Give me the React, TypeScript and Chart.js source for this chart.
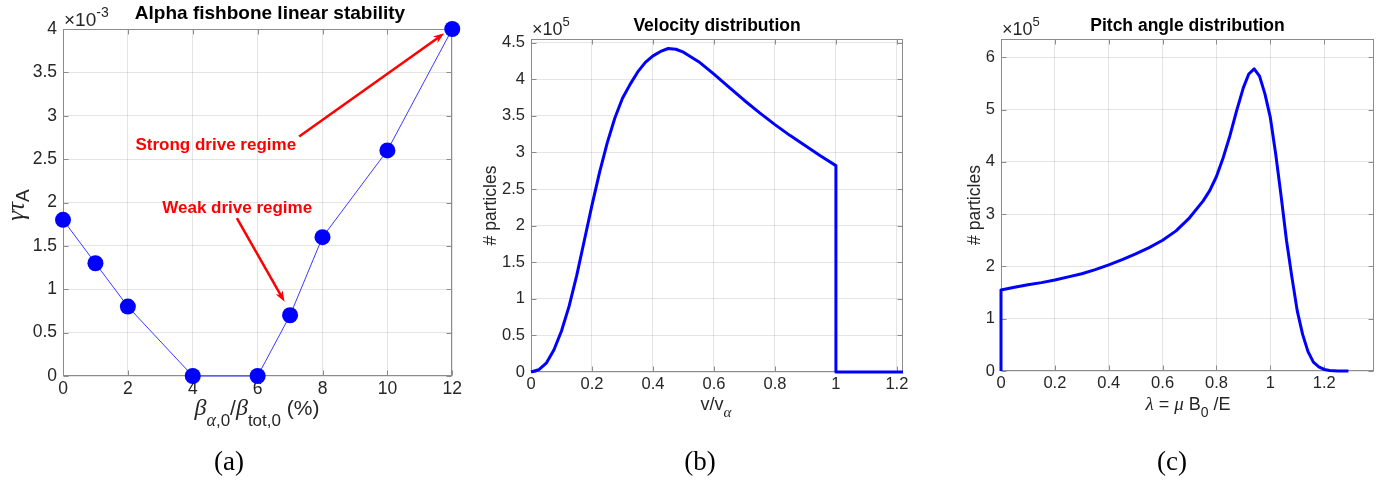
import React, { useEffect, useRef } from 'react';
import { Chart, registerables } from 'chart.js';

Chart.register(...registerables);

const SANS = '"Liberation Sans", Arial, Helvetica, sans-serif';
const SERIF = '"Liberation Serif", "Times New Roman", serif';
const TEXT = '#262626';
const AXIS = '#8c8c8c';
const GRID = 'rgba(0,0,0,0.1)';
const BLUE = '#0000ff';
const RED = '#ff0000';
const H = 481;

// ---------- (a) Alpha fishbone linear stability ----------
const BETA_RATIO_PCT = [0, 1, 2, 4, 6, 7, 8, 10, 12];
const GROWTH_RATE_E3 = [1.8, 1.3, 0.8, 0, 0, 0.7, 1.6, 2.6, 4.0];
const A_X_TICKS = [0, 2, 4, 6, 8, 10, 12];
const A_X_TICK_LABELS = ['0', '2', '4', '6', '8', '10', '12'];
const A_Y_TICKS = [0, 0.5, 1, 1.5, 2, 2.5, 3, 3.5, 4];
const A_Y_TICK_LABELS = ['0', '0.5', '1', '1.5', '2', '2.5', '3', '3.5', '4'];
const A_TITLE = 'Alpha fishbone linear stability';
const STRONG_LABEL = 'Strong drive regime';
const WEAK_LABEL = 'Weak drive regime';

// ---------- (b) Velocity distribution ----------
const VEL_X = [0, 0.025, 0.05, 0.075, 0.1, 0.125, 0.15, 0.175, 0.2, 0.225, 0.25, 0.275, 0.3, 0.325, 0.35, 0.375, 0.4, 0.425, 0.45, 0.475, 0.5, 0.55, 0.6, 0.65, 0.7, 0.75, 0.8, 0.85, 0.9, 0.95, 1.0, 1.0, 1.22];
const VEL_COUNT_E5 = [0, 0.03, 0.12, 0.3, 0.56, 0.9, 1.32, 1.8, 2.28, 2.73, 3.13, 3.47, 3.74, 3.93, 4.1, 4.23, 4.32, 4.38, 4.42, 4.41, 4.37, 4.24, 4.07, 3.89, 3.71, 3.54, 3.38, 3.23, 3.09, 2.95, 2.82, 0, 0];
const B_X_TICKS = [0, 0.2, 0.4, 0.6, 0.8, 1, 1.2];
const B_X_TICK_LABELS = ['0', '0.2', '0.4', '0.6', '0.8', '1', '1.2'];
const B_Y_TICKS = [0, 0.5, 1, 1.5, 2, 2.5, 3, 3.5, 4, 4.5];
const B_Y_TICK_LABELS = ['0', '0.5', '1', '1.5', '2', '2.5', '3', '3.5', '4', '4.5'];
const B_TITLE = 'Velocity distribution';

// ---------- (c) Pitch angle distribution ----------
const PITCH_X = [0, 0, 0.05, 0.1, 0.15, 0.2, 0.25, 0.3, 0.35, 0.4, 0.45, 0.5, 0.55, 0.6, 0.65, 0.7, 0.75, 0.775, 0.8, 0.825, 0.85, 0.875, 0.9, 0.92, 0.94, 0.96, 0.98, 1.0, 1.02, 1.04, 1.06, 1.08, 1.1, 1.12, 1.14, 1.16, 1.18, 1.2, 1.22, 1.25, 1.29];
const PITCH_COUNT_E5 = [0, 1.55, 1.6, 1.65, 1.69, 1.74, 1.8, 1.86, 1.94, 2.03, 2.13, 2.24, 2.36, 2.5, 2.68, 2.93, 3.25, 3.45, 3.72, 4.08, 4.5, 4.98, 5.42, 5.68, 5.78, 5.64, 5.3, 4.85, 4.15, 3.35, 2.5, 1.8, 1.15, 0.7, 0.37, 0.17, 0.08, 0.03, 0.01, 0, 0];
const C_X_TICKS = [0, 0.2, 0.4, 0.6, 0.8, 1, 1.2];
const C_X_TICK_LABELS = ['0', '0.2', '0.4', '0.6', '0.8', '1', '1.2'];
const C_Y_TICKS = [0, 1, 2, 3, 4, 5, 6];
const C_Y_TICK_LABELS = ['0', '1', '2', '3', '4', '5', '6'];
const C_TITLE = 'Pitch angle distribution';

type Part = { t: string; f: string; dy?: number };

function drawRich(ctx: CanvasRenderingContext2D, parts: Part[], x: number, y: number, opts: { rot?: boolean; align?: 'center' | 'left'; color?: string } = {}) {
  ctx.save();
  ctx.translate(x, y);
  if (opts.rot) ctx.rotate(-Math.PI / 2);
  ctx.textBaseline = 'alphabetic';
  ctx.textAlign = 'left';
  ctx.fillStyle = opts.color || TEXT;
  let w = 0;
  for (const p of parts) { ctx.font = p.f; w += ctx.measureText(p.t).width; }
  let cx = opts.align === 'left' ? 0 : -w / 2;
  for (const p of parts) {
    ctx.font = p.f;
    ctx.fillText(p.t, cx, p.dy || 0);
    cx += ctx.measureText(p.t).width;
  }
  ctx.restore();
}

function drawArrow(ctx: CanvasRenderingContext2D, x1: number, y1: number, x2: number, y2: number) {
  const ang = Math.atan2(y2 - y1, x2 - x1);
  const len = 11, half = 4;
  ctx.save();
  ctx.strokeStyle = RED;
  ctx.fillStyle = RED;
  ctx.lineWidth = 2.5;
  ctx.beginPath();
  ctx.moveTo(x1, y1);
  ctx.lineTo(x2 - Math.cos(ang) * len * 0.6, y2 - Math.sin(ang) * len * 0.6);
  ctx.stroke();
  const bx = x2 - Math.cos(ang) * len, by = y2 - Math.sin(ang) * len;
  const nx = -Math.sin(ang), ny = Math.cos(ang);
  ctx.beginPath();
  ctx.moveTo(x2, y2);
  ctx.lineTo(bx + nx * half, by + ny * half);
  ctx.lineTo(x2 - Math.cos(ang) * len * 0.7, y2 - Math.sin(ang) * len * 0.7);
  ctx.lineTo(bx - nx * half, by - ny * half);
  ctx.closePath();
  ctx.fill();
  ctx.restore();
}

type Spec = {
  datasets: any[];
  x: [number, number, number[], string[]];
  y: [number, number, number[], string[]];
  pad: { left: number; right: number; top: number; bottom: number };
  tickSize: number;
  decorate: (ctx: CanvasRenderingContext2D, chart: any) => void;
};

function makeConfig(s: Spec): any {
  const framePlugin = {
    id: 'frame',
    beforeDatasetsDraw(chart: any) {
      const { ctx, chartArea: a, scales } = chart;
      ctx.save();
      ctx.strokeStyle = AXIS;
      ctx.lineWidth = 1;
      const L = Math.round(a.left) + 0.5, R = Math.round(a.right) - 0.5;
      const T = Math.round(a.top) + 0.5, B = Math.round(a.bottom) - 0.5;
      ctx.strokeRect(L, T, R - L, B - T);
      const tl = 5;
      ctx.beginPath();
      for (const v of s.x[2]) {
        const px = Math.round(scales.x.getPixelForValue(v)) + 0.5;
        ctx.moveTo(px, B); ctx.lineTo(px, B - tl);
        ctx.moveTo(px, T); ctx.lineTo(px, T + tl);
      }
      for (const v of s.y[2]) {
        const py = Math.round(scales.y.getPixelForValue(v)) + 0.5;
        ctx.moveTo(L, py); ctx.lineTo(L + tl, py);
        ctx.moveTo(R, py); ctx.lineTo(R - tl, py);
      }
      ctx.stroke();
      ctx.restore();
    },
    afterDraw(chart: any) {
      s.decorate(chart.ctx, chart);
    },
  };
  const axis = (d: [number, number, number[], string[]], horizontal: boolean) => ({
    type: 'linear',
    min: d[0],
    max: d[1],
    afterBuildTicks: (sc: any) => { sc.ticks = d[2].map((v) => ({ value: v })); },
    afterFit: (sc: any) => { if (horizontal) sc.height = 30; else sc.width = 40; },
    ticks: {
      autoSkip: false,
      maxRotation: 0,
      padding: horizontal ? 3 : 6,
      color: TEXT,
      font: { family: SANS, size: s.tickSize },
      callback: (v: number) => { const i = d[2].findIndex((t) => Math.abs(t - v) < 1e-9); return i >= 0 ? d[3][i] : ''; },
    },
    grid: { color: GRID, lineWidth: 1, drawTicks: false },
    border: { display: false },
  });
  return {
    type: 'line',
    data: { datasets: s.datasets },
    options: {
      responsive: false,
      animation: false,
      events: [],
      layout: { autoPadding: false, padding: s.pad },
      plugins: { legend: { display: false }, title: { display: false }, tooltip: { enabled: false } },
      scales: { x: axis(s.x, true), y: axis(s.y, false) },
    },
    plugins: [framePlugin],
  };
}

const supE = (t: string, size: number, dy: number): Part => ({ t, f: `${size}px ${SANS}`, dy });

const specA: Spec = {
  datasets: [{
    data: BETA_RATIO_PCT.map((x, i) => ({ x, y: GROWTH_RATE_E3[i] })),
    borderColor: '#3a3aff',
    borderWidth: 1,
    pointRadius: 8,
    pointBackgroundColor: BLUE,
    pointBorderWidth: 0,
    tension: 0,
    clip: false,
  }],
  x: [0, 12, A_X_TICKS, A_X_TICK_LABELS],
  y: [0, 4, A_Y_TICKS, A_Y_TICK_LABELS],
  pad: { left: 23, right: 12, top: 29, bottom: 75 },
  tickSize: 17.5,
  decorate: (ctx, chart) => {
    const sx = chart.scales.x, sy = chart.scales.y;
    drawRich(ctx, [{ t: A_TITLE, f: `bold 19px ${SANS}` }], 270, 19, { color: '#000' });
    drawRich(ctx, [{ t: '\u00d710', f: `19px ${SANS}` }, supE('-3', 14, -9)], 64, 26, { align: 'left' });
    drawRich(ctx, [{ t: '\u03b3\u03c4', f: `italic 25px ${SERIF}` }, { t: 'A', f: `19px ${SANS}`, dy: 5 }], 24, 205, { rot: true });
    drawRich(ctx, [
      { t: '\u03b2', f: `italic 24px ${SERIF}` },
      { t: '\u03b1', f: `italic 18px ${SERIF}`, dy: 11 },
      { t: ',0', f: `17px ${SANS}`, dy: 11 },
      { t: '/', f: `21px ${SANS}` },
      { t: '\u03b2', f: `italic 24px ${SERIF}` },
      { t: 'tot,0', f: `17px ${SANS}`, dy: 11 },
      { t: ' (%)', f: `21px ${SANS}` },
    ], 257, 415);
    drawRich(ctx, [{ t: '(a)', f: `27px ${SERIF}` }], 229, 470, { color: '#000' });
    // annotations (data coordinates)
    drawArrow(ctx, sx.getPixelForValue(7.28), sy.getPixelForValue(2.76), sx.getPixelForValue(11.75), sy.getPixelForValue(3.95));
    drawArrow(ctx, sx.getPixelForValue(5.36), sy.getPixelForValue(1.82), sx.getPixelForValue(6.83), sy.getPixelForValue(0.856));
    drawRich(ctx, [{ t: STRONG_LABEL, f: `bold 17px ${SANS}` }], sx.getPixelForValue(4.71), sy.getPixelForValue(2.605), { color: RED });
    drawRich(ctx, [{ t: WEAK_LABEL, f: `bold 17px ${SANS}` }], sx.getPixelForValue(5.37), sy.getPixelForValue(1.875), { color: RED });
  },
};

const lineDs = (xs: number[], ys: number[]) => ({
  data: xs.map((x, i) => ({ x, y: ys[i] })),
  borderColor: BLUE,
  borderWidth: 3,
  pointRadius: 0,
  tension: 0,
  borderJoinStyle: 'round',
  clip: false,
});

const specB: Spec = {
  datasets: [lineDs(VEL_X, VEL_COUNT_E5)],
  x: [0, 1.22, B_X_TICKS, B_X_TICK_LABELS],
  y: [0, 4.55, B_Y_TICKS, B_Y_TICK_LABELS],
  pad: { left: 26, right: 27, top: 39, bottom: 79 },
  tickSize: 16.5,
  decorate: (ctx) => {
    drawRich(ctx, [{ t: B_TITLE, f: `bold 17.5px ${SANS}` }], 252, 31, { color: '#000' });
    drawRich(ctx, [{ t: '\u00d710', f: `18px ${SANS}` }, supE('5', 13, -9)], 67, 35, { align: 'left' });
    drawRich(ctx, [{ t: '# particles', f: `17.5px ${SANS}` }], 31, 205.5, { rot: true });
    drawRich(ctx, [{ t: 'v/v', f: `18px ${SANS}` }, { t: '\u03b1', f: `italic 15px ${SERIF}`, dy: 7 }], 251, 410);
    drawRich(ctx, [{ t: '(b)', f: `27px ${SERIF}` }], 235, 470, { color: '#000' });
  },
};

const specC: Spec = {
  datasets: [lineDs(PITCH_X, PITCH_COUNT_E5)],
  x: [0, 1.385, C_X_TICKS, C_X_TICK_LABELS],
  y: [0, 6.35, C_Y_TICKS, C_Y_TICK_LABELS],
  pad: { left: 31, right: 19, top: 39, bottom: 80 },
  tickSize: 16.5,
  decorate: (ctx) => {
    drawRich(ctx, [{ t: C_TITLE, f: `bold 17.5px ${SANS}` }], 257.5, 31, { color: '#000' });
    drawRich(ctx, [{ t: '\u00d710', f: `18px ${SANS}` }, supE('5', 13, -9)], 72, 35, { align: 'left' });
    drawRich(ctx, [{ t: '# particles', f: `17.5px ${SANS}` }], 49.5, 205, { rot: true });
    drawRich(ctx, [
      { t: '\u03bb', f: `italic 19px ${SERIF}` },
      { t: ' = ', f: `18px ${SANS}` },
      { t: '\u03bc', f: `italic 19px ${SERIF}` },
      { t: ' B', f: `18px ${SANS}` },
      { t: '0', f: `14px ${SANS}`, dy: 7 },
      { t: ' /E', f: `18px ${SANS}` },
    ], 258, 410);
    drawRich(ctx, [{ t: '(c)', f: `27px ${SERIF}` }], 242, 470, { color: '#000' });
  },
};

function Panel({ left, width, spec }: { left: number; width: number; spec: Spec }) {
  const ref = useRef<HTMLCanvasElement>(null);
  useEffect(() => {
    const chart = new Chart(ref.current as HTMLCanvasElement, makeConfig(spec));
    return () => chart.destroy();
  }, []);
  return <canvas ref={ref} width={width} height={H} style={{ position: 'absolute', left, top: 0, width, height: H }} />;
}

export default function App() {
  return (
    <div style={{ position: 'fixed', left: 0, top: 0, width: 1393, height: H, background: '#fff' }}>
      <Panel left={0} width={465} spec={specA} />
      <Panel left={465} width={465} spec={specB} />
      <Panel left={930} width={463} spec={specC} />
    </div>
  );
}
